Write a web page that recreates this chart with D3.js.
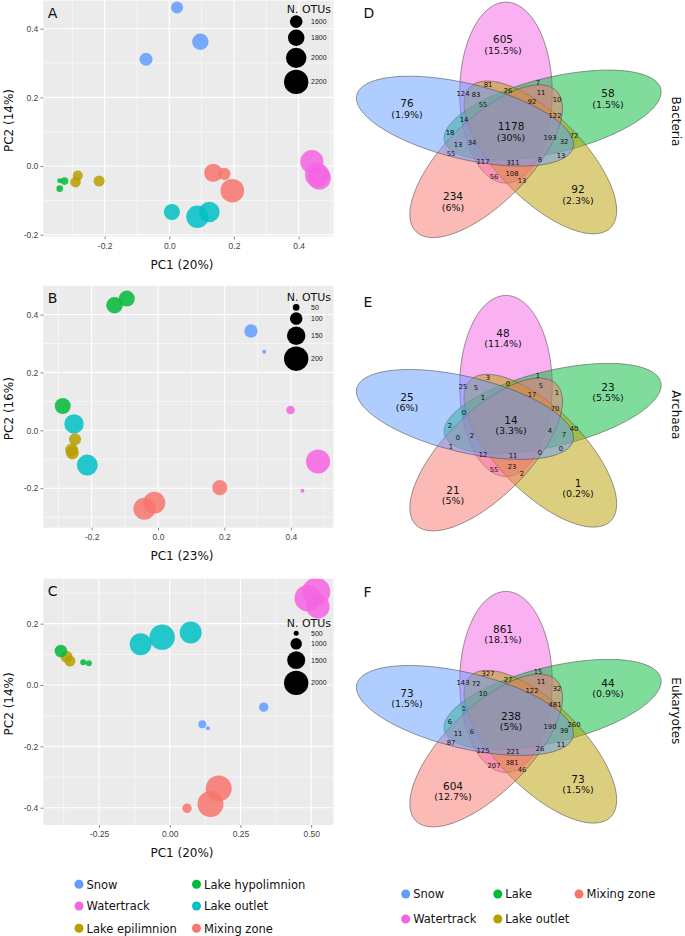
<!DOCTYPE html>
<html><head><meta charset="utf-8">
<script src="https://cdn.jsdelivr.net/npm/d3@7"></script>
<style>body{margin:0;background:#fff}svg{display:block}</style>
</head><body>
<svg id="fig" width="685" height="936"></svg>
<script>
// ================= DATA =================
const sampleGroups = ["Snow","Watertrack","Lake epilimnion","Lake hypolimnion","Lake outlet","Mixing zone"];
const sampleColors = ["#619CFF","#F564E3","#B79F00","#00BA38","#00BFC4","#F8766D"];

// Panel A – Bacteria PCA
const groupA = ["Snow","Snow","Snow","Watertrack","Watertrack","Watertrack","Mixing zone","Mixing zone","Mixing zone","Lake outlet","Lake outlet","Lake outlet","Lake hypolimnion","Lake hypolimnion","Lake hypolimnion","Lake epilimnion","Lake epilimnion","Lake epilimnion"];
const pc1A = [0.024,0.096,-0.072, 0.441,0.457,0.464, 0.136,0.170,0.195, 0.008,0.087,0.124, -0.324,-0.339,-0.339, -0.283,-0.290,-0.217];
const pc2A = [0.462,0.362,0.311, 0.0125,-0.026,-0.035, -0.020,-0.023,-0.072, -0.134,-0.148,-0.134, -0.044,-0.043,-0.066, -0.028,-0.047,-0.044];
const otuA = [1569,1793,1620, 2140,2190,2140, 1895,1590,2160, 1773,2098,2007, 1346,1213,1295, 1468,1498,1519];
const sizeLegendA = [1600,1800,2000,2200];

// Panel B – Archaea PCA
const groupB = ["Lake hypolimnion","Lake hypolimnion","Lake hypolimnion","Snow","Snow","Watertrack","Watertrack","Watertrack","Lake outlet","Lake outlet","Lake epilimnion","Lake epilimnion","Lake epilimnion","Mixing zone","Mixing zone","Mixing zone"];
const pc1B = [-0.131,-0.094,-0.287, 0.280,0.320, 0.399,0.482,0.435, -0.253,-0.213, -0.250,-0.260,-0.258, -0.011,-0.041,0.186];
const pc2B = [0.432,0.455,0.084, 0.343,0.271, 0.070,-0.108,-0.209, 0.022,-0.120, -0.031,-0.068,-0.078, -0.250,-0.271,-0.198];
const otuB = [134,129,129, 107,28, 67,197,28, 158,171, 96,104,104, 180,180,121];
const sizeLegendB = [50,100,150,200];

// Panel C – Eukaryotes PCA
const groupC = ["Watertrack","Watertrack","Watertrack","Lake outlet","Lake outlet","Lake outlet","Lake epilimnion","Lake epilimnion","Lake hypolimnion","Lake hypolimnion","Lake hypolimnion","Snow","Snow","Snow","Mixing zone","Mixing zone","Mixing zone"];
const pc1C = [0.518,0.488,0.524, -0.103,-0.027,0.074, -0.365,-0.353, -0.385,-0.306,-0.286, 0.332,0.115,0.135, 0.173,0.144,0.061];
const pc2C = [0.304,0.283,0.255, 0.133,0.156,0.171, 0.092,0.078, 0.111,0.074,0.071, -0.072,-0.128,-0.141, -0.337,-0.388,-0.402];
const otuC = [2277,2169,1922, 1814,2077,1814, 1041,964, 1087,577,577, 840,732,423, 2123,2123,840];
const sizeLegendC = [500,1000,1500,2000];

// Venn diagrams (D, E, F)
const vennSets   = ["Snow","Watertrack","Lake","Lake outlet","Mixing zone"];
const vennKeys   = ["S","W","L","O","M"];
const vennColors = ["#619CFF","#F564E3","#00BA38","#B79F00","#F8766D"];
const regionKeys = ["S","W","L","O","M","WL","WO","SW","SL","SM","WM","OM","SO","LO","LM","WLO","LOM","SOM","SWM","SWL","WLM","SWO","SLM","WOM","SLO","WLOM","SLOM","SWOM","SWLM","SWLO","SWLOM"];
const bacteriaCounts  = [76,605,58,92,234,7,81,124,18,55,56,13,13,72,10,26,122,8,117,14,11,83,13,108,32,92,193,311,34,55,1178];
const archaeaCounts   = [25,48,23,1,21,1,3,25,2,1,55,2,0,40,1,0,70,0,12,0,5,5,0,23,7,17,4,11,2,1,14];
const eukaryoteCounts = [73,861,44,73,604,15,327,143,6,87,207,46,11,260,32,27,481,26,125,1,11,72,11,381,39,122,190,221,6,10,238];
// percentage labels for S, W, L, O, M and the all-five region
const bacteriaPct  = ["1.9%","15.5%","1.5%","2.3%","6%","30%"];
const archaeaPct   = ["6%","11.4%","5.5%","0.2%","5%","3.3%"];
const eukaryotePct = ["1.5%","18.1%","0.9%","1.5%","12.7%","5%"];
const kingdoms = ["Bacteria","Archaea","Eukaryotes"];

// ================= DRAWING =================
const svg = d3.select("#fig");
const loc = d3.formatLocale({decimal:".",thousands:",",grouping:[3],currency:["",""],minus:"-"});
const colorOf = d3.scaleOrdinal().domain(sampleGroups).range(sampleColors);
const SANS = "'Liberation Sans', Arial, sans-serif";
const DJV = "'DejaVu Sans', sans-serif";

const panels = [
  {id:"A", groups:groupA, x:pc1A, y:pc2A, otu:otuA, legend:sizeLegendA, sizeRange:[6.3,12.2],
   top:0.5, bottom:236.5, left:43.3, right:333.5, xDom:[-0.3897,0.5079], yDom:[-0.2054,0.4821],
   xTicks:[-0.2,0,0.2,0.4], yTicks:[-0.2,0,0.2,0.4], xf:".1f", yf:".1f", xlab:"PC1 (20%)", ylab:"PC2 (14%)", legTop:8},
  {id:"B", groups:groupB, x:pc1B, y:pc2B, otu:otuB, legend:sizeLegendB, sizeRange:[3.3,12.2],
   top:285.5, bottom:527.7, left:43.3, right:333.5, xDom:[-0.3455,0.5286], yDom:[-0.3364,0.5002],
   xTicks:[-0.2,0,0.2,0.4], yTicks:[-0.2,0,0.2,0.4], xf:".1f", yf:".1f", xlab:"PC1 (23%)", ylab:"PC2 (16%)", legTop:11.8},
  {id:"C", groups:groupC, x:pc1C, y:pc2C, otu:otuC, legend:sizeLegendC, sizeRange:[2.5,12.2],
   top:578.7, bottom:825, left:43.3, right:333.5, xDom:[-0.4472,0.5789], yDom:[-0.4564,0.3466],
   xTicks:[-0.25,0,0.25,0.5], yTicks:[-0.4,-0.2,0,0.2], xf:".2f", yf:".1f", xlab:"PC1 (20%)", ylab:"PC2 (14%)", legTop:44.6}
];

function minorTicks(ticks, dom){
  const step = ticks[1]-ticks[0], out=[];
  for(let i=-3;i<ticks.length+3;i++){ const v = ticks[0]+step*(i+0.5); if(v>dom[0]&&v<dom[1]) out.push(v); }
  return out;
}

panels.forEach(p=>{
  const g = svg.append("g");
  const x = d3.scaleLinear().domain(p.xDom).range([p.left,p.right]);
  const y = d3.scaleLinear().domain(p.yDom).range([p.bottom,p.top]);
  const r = d3.scaleLinear().domain([p.legend[0],p.legend[p.legend.length-1]]).range(p.sizeRange);
  const rad = v => Math.max(1.8, r(v));
  g.append("rect").attr("x",p.left).attr("y",p.top).attr("width",p.right-p.left).attr("height",p.bottom-p.top).attr("fill","#EBEBEB");
  g.selectAll(".mx").data(minorTicks(p.xTicks,p.xDom)).join("line").attr("x1",d=>x(d)).attr("x2",d=>x(d)).attr("y1",p.top).attr("y2",p.bottom).attr("stroke","#fff").attr("stroke-width",0.55);
  g.selectAll(".my").data(minorTicks(p.yTicks,p.yDom)).join("line").attr("y1",d=>y(d)).attr("y2",d=>y(d)).attr("x1",p.left).attr("x2",p.right).attr("stroke","#fff").attr("stroke-width",0.55);
  g.selectAll(".Mx").data(p.xTicks).join("line").attr("x1",d=>x(d)).attr("x2",d=>x(d)).attr("y1",p.top).attr("y2",p.bottom).attr("stroke","#fff").attr("stroke-width",1.1);
  g.selectAll(".My").data(p.yTicks).join("line").attr("y1",d=>y(d)).attr("y2",d=>y(d)).attr("x1",p.left).attr("x2",p.right).attr("stroke","#fff").attr("stroke-width",1.1);
  const ax = g.append("g").attr("transform",`translate(0,${p.bottom})`)
    .call(d3.axisBottom(x).tickValues(p.xTicks).tickFormat(loc.format(p.xf)).tickSize(2.8).tickPadding(3.4));
  const ay = g.append("g").attr("transform",`translate(${p.left},0)`)
    .call(d3.axisLeft(y).tickValues(p.yTicks).tickFormat(loc.format(p.yf)).tickSize(2.8).tickPadding(2.2));
  [ax,ay].forEach(a=>{ a.select(".domain").remove(); a.selectAll("line").attr("stroke","#333").attr("stroke-width",0.6);
    a.selectAll("text").attr("fill","#444").style("font-family",SANS).style("font-size","8.5px"); });
  g.append("text").attr("x",182).attr("y",p.bottom+32).attr("text-anchor","middle").style("font-family",DJV).style("font-size","12px").attr("fill","#111").text(p.xlab);
  g.append("text").attr("transform",`translate(13.3,${(p.top+p.bottom)/2+2}) rotate(-90)`).attr("text-anchor","middle").style("font-family",DJV).style("font-size","12px").attr("fill","#111").text(p.ylab);
  g.append("text").attr("x",p.left+4.5).attr("y",p.top+17.5).style("font-family",DJV).style("font-size","14px").attr("fill","#111").text(p.id);
  const cid = "clip"+p.id;
  svg.append("clipPath").attr("id",cid).append("rect").attr("x",p.left).attr("y",p.top).attr("width",p.right-p.left).attr("height",p.bottom-p.top);
  const idx = d3.range(p.x.length);
  g.append("g").attr("clip-path",`url(#${cid})`).selectAll("circle").data(idx).join("circle")
    .attr("cx",i=>x(p.x[i])).attr("cy",i=>y(p.y[i])).attr("r",i=>rad(p.otu[i]))
    .attr("fill",i=>colorOf(p.groups[i])).attr("fill-opacity",0.85);
  const lg = g.append("g");
  const ty = p.top + p.legTop;
  lg.append("text").attr("x",286.7).attr("y",ty+4).style("font-family",DJV).style("font-size","11px").attr("fill","#111").text("N. OTUs");
  let cy = ty + 6;
  p.legend.forEach(v=>{
    const rr = r(v), h = Math.max(8, 2*rr+1.6);
    const c = cy + h/2;
    lg.append("circle").attr("cx",296.2).attr("cy",c).attr("r",rr).attr("fill","#000");
    lg.append("text").attr("x",311).attr("y",c+2.4).style("font-family",SANS).style("font-size","7px").attr("fill","#222").text(v);
    cy += h;
  });
});

// scatter legend (bottom-left)
const sl = svg.append("g");
sampleGroups.forEach((s,i)=>{
  const col = Math.floor(i/3), row = i%3;
  const cx = [79,196.5][col], cy = [884.3,906,928.3][row];
  sl.append("circle").attr("cx",cx).attr("cy",cy).attr("r",4.5).attr("fill",colorOf(s));
  sl.append("text").attr("x",cx+7.5).attr("y",cy+4.2).style("font-family",DJV).style("font-size","11.5px").attr("fill","#111").text(s);
});

// ---------- Venn layout (5 rotated ellipses, model units) ----------
const VG = {sx:125, sy:100, A:0.905, B:0.37, d:0.37, delta:5};
const vennAxisDeg = [162, 90, 18, -54, -126]; // S, W, L, O, M
const ell = vennAxisDeg.map(a=>{
  const psi=a*Math.PI/180, phi=(a+VG.delta)*Math.PI/180;
  return {cx:VG.d*Math.cos(phi), cy:VG.d*Math.sin(phi), ex:Math.cos(psi), ey:Math.sin(psi)};
});
const keyMask = k => k.split("").reduce((m,c)=>m|(1<<vennKeys.indexOf(c)),0);

// label template: one position per region class, repeated with 5-fold rotation
const labelTemplate = [
  {key:"W", r:0.847, a:93.7},
  {key:"WLOM", r:0.332, a:58.3},
  {key:"WLO", r:0.386, a:92.6},
  {key:"WL", r:0.514, a:68.5},
  {key:"WO", r:0.484, a:111},
  {key:"SWO", r:0.445, a:128.2}
];
const rotKey = {W:"L",L:"O",O:"M",M:"S",S:"W"};
const anchors = {};
labelTemplate.forEach(t=>{
  let key=t.key;
  for(let k=0;k<5;k++){
    const a=(t.a-72*k)*Math.PI/180;
    anchors[keyMask(key)] = [t.r*Math.cos(a), t.r*Math.sin(a)];
    key = key.split("").map(c=>rotKey[c]).join("");
  }
});
anchors[31] = [0.008,-0.024];

// sample the regions: membership + clearance to nearest outline (px)
const samples = {}, poleR = {};
for(let dy=-135; dy<=135; dy+=1){
  for(let dx=-170; dx<=170; dx+=1){
    const u = dx/VG.sx, v = -dy/VG.sy;
    let mask=0, dmin=1e9;
    ell.forEach((e,k)=>{
      const pu=u-e.cx, pv=v-e.cy;
      const t = pu*e.ex + pv*e.ey, s = -pu*e.ey + pv*e.ex;
      const q = (t/VG.A)**2 + (s/VG.B)**2, rr = Math.sqrt(q)+1e-9;
      if(q<1) mask |= (1<<k);
      const dqdt = 2*t/VG.A**2, dqds = 2*s/VG.B**2;
      const du = dqdt*e.ex - dqds*e.ey, dv = dqdt*e.ey + dqds*e.ex;
      const gr = Math.sqrt((du/VG.sx)**2+(dv/VG.sy)**2)/(2*rr) + 1e-9;
      const dist = Math.abs(rr-1)/gr;
      if(dist<dmin) dmin=dist;
    });
    if(!mask) continue;
    (samples[mask] = samples[mask] || []).push([dx,dy,dmin]);
    poleR[mask] = Math.max(poleR[mask]||0, dmin);
  }
}
function labelPos(m){
  const a = anchors[m], ax = a[0]*VG.sx, ay = -a[1]*VG.sy;
  const need = Math.min(4, 0.6*poleR[m]);
  let best=null, bd=1e9;
  samples[m].forEach(([dx,dy,c])=>{ if(c<need) return; const dd=(dx-ax)**2+(dy-ay)**2; if(dd<bd){bd=dd;best=[dx,dy];} });
  return best;
}
const labelOffsets = {};
regionKeys.forEach(k=>{ const m=keyMask(k); labelOffsets[m]=labelPos(m); });

const vennCentres = [[510,129.5],[510,422.8],[510,718.8]];
const vennCounts = [bacteriaCounts, archaeaCounts, eukaryoteCounts];
const vennPcts = [bacteriaPct, archaeaPct, eukaryotePct];
const vennLetters = ["D","E","F"];
const letterY = [18,306.5,597];
const drawOrder = [1,2,3,4,0]; // W, L, O, M, S

vennCentres.forEach(([ox,oy],vi)=>{
  const g = svg.append("g");
  const xV = d3.scaleLinear().domain([0,1]).range([ox, ox+VG.sx]);
  const yV = d3.scaleLinear().domain([0,1]).range([oy, oy-VG.sy]);
  const line = d3.line().x(d=>xV(d[0])).y(d=>yV(d[1])).curve(d3.curveLinearClosed);
  drawOrder.forEach(k=>{
    const e = ell[k];
    const pts = d3.range(0,360,2).map(a=>{ const th=a*Math.PI/180;
      const t=VG.A*Math.cos(th), s=VG.B*Math.sin(th);
      return [e.cx + t*e.ex - s*e.ey, e.cy + t*e.ey + s*e.ex]; });
    g.append("path").attr("d",line(pts)).attr("fill",vennColors[k]).attr("fill-opacity",0.5)
      .attr("stroke","#4a4a4a").attr("stroke-width",0.7).attr("stroke-opacity",0.8);
  });
  regionKeys.forEach((key,ri)=>{
    const m = keyMask(key), off = labelOffsets[m];
    const px = ox + off[0], py = oy + off[1];
    const cnt = vennCounts[vi][ri];
    const big = key.length===1 || key.length===5;
    if(big){
      const pi = key.length===5 ? 5 : vennKeys.indexOf(key);
      g.append("text").attr("x",px).attr("y",py-1.2).attr("text-anchor","middle").style("font-family",DJV).style("font-size","10.5px").attr("fill","#111").text(cnt);
      g.append("text").attr("x",px).attr("y",py+9.2).attr("text-anchor","middle").style("font-family",DJV).style("font-size","9.5px").attr("fill","#111").text("("+vennPcts[vi][pi]+")");
    } else {
      g.append("text").attr("x",px).attr("y",py+2.4).attr("text-anchor","middle").style("font-family",DJV).style("font-size","6.8px").attr("fill","#111").text(cnt);
    }
  });
  g.append("text").attr("x",363.5).attr("y",letterY[vi]).style("font-family",DJV).style("font-size","14px").attr("fill","#111").text(vennLetters[vi]);
  g.append("text").attr("transform",`translate(672,${oy-8}) rotate(90)`).attr("text-anchor","middle").style("font-family",DJV).style("font-size","12px").attr("fill","#111").text(kingdoms[vi]);
});

// Venn legend
const vl = svg.append("g");
const vlPos = [[405.7,894],[405.7,919],[497.8,894],[497.8,919],[579,894]]; // Snow, Watertrack, Lake, Lake outlet, Mixing zone
[0,1,2,3,4].forEach((k,i)=>{
  const [cx,cy] = vlPos[i];
  vl.append("circle").attr("cx",cx).attr("cy",cy).attr("r",4.5).attr("fill",vennColors[k]);
  vl.append("text").attr("x",cx+7.5).attr("y",cy+4.2).style("font-family",DJV).style("font-size","11.5px").attr("fill","#111").text(vennSets[k]);
});
</script>
</body></html>
